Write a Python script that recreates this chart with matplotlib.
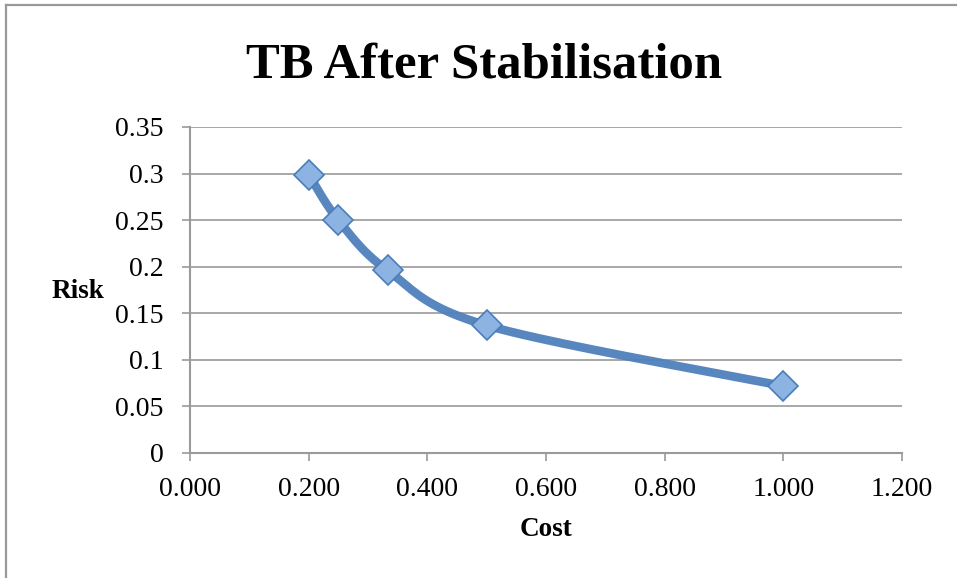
import numpy as np
import matplotlib
matplotlib.use("Agg")
import matplotlib.pyplot as plt
from matplotlib.lines import Line2D

title = "TB After Stabilisation"
x_label = "Cost"
y_label = "Risk"
cost = [0.200, 0.250, 0.333, 0.500, 1.000]
risk = [0.299, 0.250, 0.196, 0.137, 0.072]
x_ticks = [0.0, 0.2, 0.4, 0.6, 0.8, 1.0, 1.2]
y_ticks = [0, 0.05, 0.1, 0.15, 0.2, 0.25, 0.3, 0.35]

FONT = "Liberation Serif"
plt.rcParams['font.family'] = [FONT, 'DejaVu Serif']

W, H = 957, 578
fig = plt.figure(figsize=(W / 100, H / 100), dpi=100)
ax = fig.add_axes([190 / W, 1 - 453 / H, (902 - 190) / W, (453 - 127) / H])

# Excel-like smoothed line (Catmull-Rom Bezier through points, in display space)
def smooth(xs, ys, n=40):
    pts = ax.transData.transform(np.column_stack([xs, ys]))
    out = []
    P = np.vstack([pts[0], pts, pts[-1]])
    for i in range(1, len(P) - 2):
        p0, p1, p2, p3 = P[i - 1], P[i], P[i + 1], P[i + 2]
        c1 = p1 + (p2 - p0) / 6.0
        c2 = p2 - (p3 - p1) / 6.0
        t = np.linspace(0, 1, n)[:, None]
        seg = ((1 - t) ** 3) * p1 + 3 * ((1 - t) ** 2) * t * c1 + 3 * (1 - t) * t ** 2 * c2 + t ** 3 * p2
        out.append(seg if i == 1 else seg[1:])
    out = np.vstack(out)
    return ax.transData.inverted().transform(out)

ax.set_xlim(0, 1.2)
ax.set_ylim(0, 0.35)
curve = smooth(cost, risk)
ax.plot(curve[:, 0], curve[:, 1], color="#4f81bd", lw=6.2, solid_capstyle="round", zorder=3, alpha=0.95)
ax.plot(cost, risk, linestyle="none", marker="D", markersize=15,
        markerfacecolor="#8db3e2", markeredgecolor="#4a7ebb", markeredgewidth=1.2, zorder=4)

ax.set_xticks(x_ticks)
ax.set_xticklabels([f"{v:.3f}" for v in x_ticks])
ax.set_yticks(y_ticks)
ax.set_yticklabels([f"{v:g}" for v in y_ticks])
ax.grid(axis="y", color="#9a9a9a", lw=1.2)
ax.set_axisbelow(True)
for s in ["top", "right"]:
    ax.spines[s].set_visible(False)
for s in ["left", "bottom"]:
    ax.spines[s].set_color("#9a9a9a")
    ax.spines[s].set_linewidth(1.5)
ax.tick_params(axis="both", direction="out", length=6, width=1.2, color="#9a9a9a",
               labelsize=20, labelcolor="black")
ax.tick_params(axis="x", pad=11)
ax.tick_params(axis="y", pad=13)

fig.text(484 / W, 1 - 65 / H, title, ha="center", va="center", fontsize=36.5, fontweight="bold")
fig.text(78 / W, 1 - 292 / H, y_label, ha="center", va="center", fontsize=19.5, fontweight="bold")
fig.text(546 / W, 1 - 530 / H, x_label, ha="center", va="center", fontsize=19.5, fontweight="bold")

fig.add_artist(Line2D([6 / W, 1.0], [1 - 5 / H, 1 - 5 / H], transform=fig.transFigure, color="#999999", lw=1.6))
fig.add_artist(Line2D([6 / W, 6 / W], [0, 1 - 5 / H], transform=fig.transFigure, color="#999999", lw=1.6))

fig.savefig("out.png", dpi=100)
